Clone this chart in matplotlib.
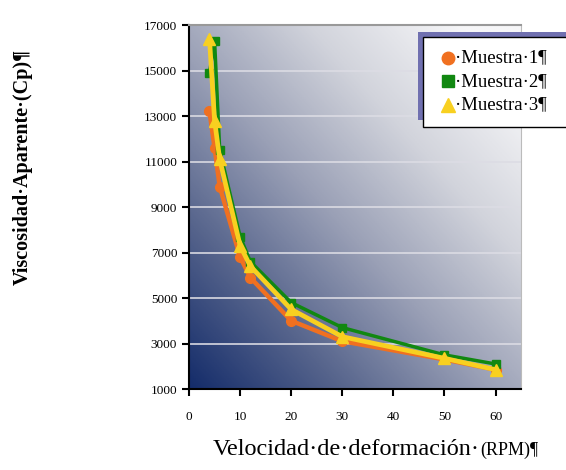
import matplotlib
matplotlib.use("Agg")
import matplotlib.pyplot as plt
from matplotlib.colors import LinearSegmentedColormap
from matplotlib.patches import Rectangle
import numpy as np

# datos
rpm_1 = [4, 5, 6, 10, 12, 20, 30, 50, 60]
visc_1 = [13200, 11600, 9900, 6800, 5900, 4000, 3100, 2300, 1850]
rpm_2 = [4, 5, 6, 10, 12, 20, 30, 50, 60]
visc_2 = [14900, 16300, 11500, 7700, 6600, 4800, 3700, 2500, 2100]
rpm_3 = [4, 5, 6, 10, 12, 20, 30, 50, 60]
visc_3 = [16400, 12800, 11100, 7300, 6400, 4500, 3300, 2350, 1850]
labels = ["·Muestra·1¶", "·Muestra·2¶", "·Muestra·3¶"]

C1, C2, C3 = "#f07020", "#118811", "#f8d020"
SERIF = ["Liberation Serif", "DejaVu Serif"]

fig = plt.figure(figsize=(5.66, 4.70), dpi=100, facecolor="white")
ax = fig.add_axes([0.334, 0.1723, 0.5866, 0.7745])

# fondo degradado (azul oscuro abajo-izq -> blanco arriba-der)
cmap = LinearSegmentedColormap.from_list(
    "bg", ["#142c6a", "#56648c", "#9aa0b6", "#d2d4dc", "#f6f6f8"])
gx, gy = np.meshgrid(np.linspace(0, 1, 200), np.linspace(0, 1, 200))
grad = np.clip(0.55 * gx + 0.55 * gy, 0, 1)
ax.imshow(grad, extent=[0, 1, 0, 1], transform=ax.transAxes, origin="lower",
          cmap=cmap, vmin=0, vmax=1, aspect="auto", zorder=0)

ax.set_xlim(0, 65)
ax.set_ylim(1000, 17000)
ax.set_yticks(np.arange(1000, 17001, 2000))
ax.set_xticks(np.arange(0, 61, 10))
for y in np.arange(3000, 17000, 2000):
    ax.axhline(y, color="#dcdce4", lw=1.3, alpha=0.9, zorder=1)

for x, y, c, m, ms, lw in [(rpm_1, visc_1, C1, "o", 7, 3.2), (rpm_2, visc_2, C2, "s", 6, 2.5),
                           (rpm_3, visc_3, C3, "^", 8, 3.4)]:
    ax.plot(x, y, color=c, lw=lw, marker=m, ms=ms, mec=c, zorder=3)

ax.spines["top"].set_color("#999999")
ax.spines["top"].set_linewidth(1.5)
ax.spines["right"].set_color("#bbbbbb")
ax.spines["left"].set_linewidth(1.5)
ax.spines["bottom"].set_linewidth(1.5)
ax.tick_params(direction="out", length=5, width=1.5, labelsize=9.5)
ax.tick_params(axis="x", pad=11)
for t in ax.get_xticklabels() + ax.get_yticklabels():
    t.set_family(SERIF)

fig.text(0.04, 0.645, "Viscosidad·Aparente·(Cp)¶", rotation=90, ha="center",
         va="center", fontsize=14.5, fontweight="bold", family=SERIF)
t1 = fig.text(0.376, 0.032, "Velocidad·de·deformación·", ha="left",
              va="baseline", fontsize=17.5, family=SERIF)
fig.canvas.draw()
bb = t1.get_window_extent().transformed(fig.transFigure.inverted())
fig.text(bb.x1, 0.032, "(RPM)¶", ha="left", va="baseline", fontsize=13, family=SERIF)

# leyenda con sombra
fig.patches.append(Rectangle((0.738, 0.745), 0.27, 0.187, transform=fig.transFigure,
                             facecolor="#7070b0", edgecolor="none", zorder=5))
fig.patches.append(Rectangle((0.747, 0.730), 0.26, 0.191, transform=fig.transFigure,
                             facecolor="white", edgecolor="black", lw=1, zorder=6))
for i, (lab, c, m, ms) in enumerate(zip(labels, [C1, C2, C3], ["o", "s", "^"], [9, 8, 10])):
    yy = 0.877 - i * 0.05
    fig.lines.append(plt.Line2D([0.791], [yy], marker=m, color=c, ms=ms, ls="none",
                                transform=fig.transFigure, zorder=7))
    fig.text(0.804, yy, lab, va="center", fontsize=13.5, family=SERIF, zorder=7)

fig.savefig("out.png", dpi=100)
